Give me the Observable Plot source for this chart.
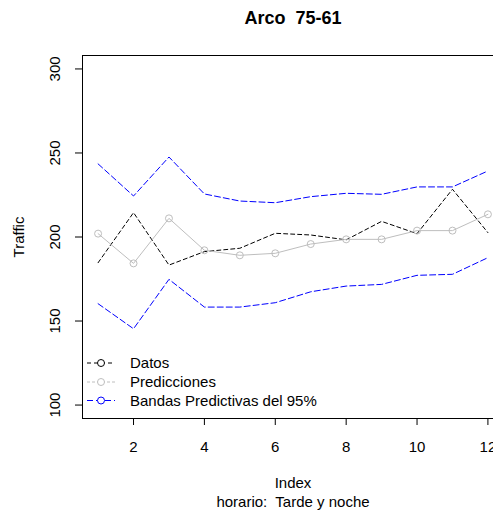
<!DOCTYPE html>
<html><head><meta charset="utf-8">
<script src="https://cdn.jsdelivr.net/npm/d3@7"></script>
<script src="https://cdn.jsdelivr.net/npm/@observablehq/plot@0.6"></script>
<style>
html,body{margin:0;padding:0;overflow:hidden;background:#fff;width:493px;height:513px;}
#wrap{position:relative;width:510px;height:513px;}
</style></head><body><div id="wrap"></div>
<script>
const index = [1,2,3,4,5,6,7,8,9,10,11,12];
const datos = [184.7,214.5,183.3,191.3,193.3,202.2,201.2,198.3,209.3,202.0,228.4,202.6];
const predicciones = [202.0,184.3,211.1,192.1,189.1,190.3,195.8,198.6,198.6,203.8,203.8,213.5];
const bandaInf = [160.3,145.4,174.8,158.3,158.3,160.9,167.4,170.8,171.8,177.2,177.8,187.7];
const bandaSup = [243.5,224.4,247.6,225.6,221.4,220.4,224.0,226.0,225.4,229.8,229.8,239.3];
const xTicks = [2,4,6,8,10,12];
const yTicks = [100,150,200,250,300];
const title = "Arco  75-61";
const xLabel = "Index";
const subLabel = "horario:  Tarde y noche";
const yLabel = "Traffic";
const legendLabels = ["Datos","Predicciones","Bandas Predictivas del 95%"];
const legendColors = ["#000000","#BEBEBE","#0000FF"];
const legendDash = ["4,3","3,2","6,3"];

const FONT = "'Liberation Sans', Arial, Helvetica, sans-serif";
const rows = index.map((x,i)=>({x, datos:datos[i], pred:predicciones[i], inf:bandaInf[i], sup:bandaSup[i]}));

const W = 510, H = 513, ML = 82, MB = 95, MT = 55, MR = 7;
const chart = Plot.plot({
  width: W, height: H,
  marginTop: MT, marginBottom: MB, marginLeft: ML, marginRight: MR,
  style: {fontFamily: FONT, fontSize: "15px", color: "black", background: "white", overflow: "visible"},
  x: {domain: [0.56, 12.44], axis: null},
  y: {domain: [92, 308], axis: null},
  marks: [
    Plot.frame({stroke: "black"}),
    Plot.axisX({ticks: xTicks, tickSize: 7, tickPadding: 16, label: null, fontSize: 15, stroke: "black"}),
    Plot.axisY({ticks: yTicks, tickSize: 7, tickFormat: () => "", label: null, stroke: "black"}),
    Plot.text(yTicks, {y: d => d, text: d => String(d), frameAnchor: "left", dx: -27, rotate: -90, textAnchor: "middle", lineAnchor: "middle", fontSize: 15}),
    Plot.line(rows, {x: "x", y: "sup", stroke: "#0000FF", strokeDasharray: "6,3", strokeWidth: 1}),
    Plot.line(rows, {x: "x", y: "inf", stroke: "#0000FF", strokeDasharray: "6,3", strokeWidth: 1}),
    Plot.line(rows, {x: "x", y: "datos", stroke: "#000000", strokeDasharray: "4,3", strokeWidth: 1}),
    Plot.line(rows, {x: "x", y: "pred", stroke: "#BEBEBE", strokeWidth: 1}),
    Plot.dot(rows, {x: "x", y: "pred", r: 3.5, stroke: "#BEBEBE", fill: "none", strokeWidth: 1}),
    Plot.text([title], {frameAnchor: "top", dy: -37, text: d => d, fontWeight: "bold", fontSize: 18, lineAnchor: "middle"}),
    Plot.text([xLabel], {frameAnchor: "bottom", dy: 65, text: d => d, fontSize: 15, lineAnchor: "middle"}),
    Plot.text([subLabel], {frameAnchor: "bottom", dy: 84, text: d => d, fontSize: 15, lineAnchor: "middle"}),
    Plot.text([yLabel], {frameAnchor: "left", dx: -63, rotate: -90, text: d => d, fontSize: 15, lineAnchor: "middle", textAnchor: "middle"})
  ]
});
document.getElementById("wrap").appendChild(chart);

// legend (bottom-left inside the plot area)
const svg = d3.select(chart.tagName === "svg" ? chart : chart.querySelector("svg"));
const bottom = H - MB;
const offs = [-55, -36, -17.5];
const lg = svg.append("g").attr("font-family", FONT).attr("font-size", 15).attr("text-anchor", "start");
legendLabels.forEach((lab, i) => {
  const y = bottom + offs[i];
  lg.append("line").attr("x1", ML + 5).attr("x2", ML + 33).attr("y1", y).attr("y2", y)
    .attr("stroke", legendColors[i]).attr("stroke-dasharray", legendDash[i]);
  lg.append("circle").attr("cx", ML + 19).attr("cy", y).attr("r", 3.5)
    .attr("fill", "white").attr("stroke", legendColors[i]);
  lg.append("text").attr("x", ML + 48).attr("y", y).attr("dy", "0.35em")
    .attr("text-anchor", "start").attr("fill", "black").text(lab);
});
</script></body></html>
